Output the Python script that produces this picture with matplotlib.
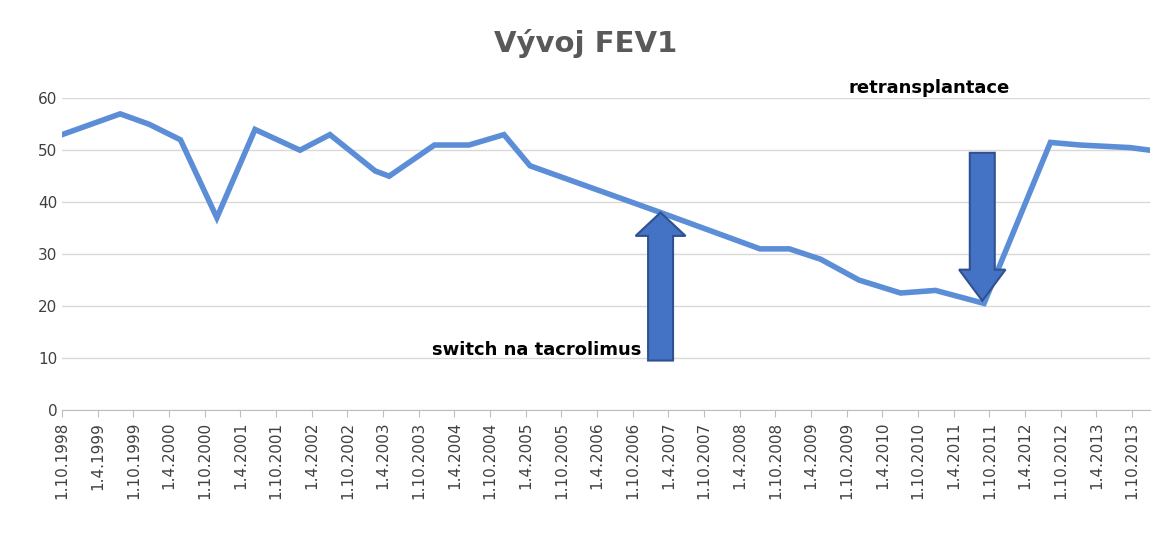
import matplotlib
matplotlib.use("Agg")
import matplotlib.pyplot as plt
from matplotlib.patches import FancyArrow

tick_labels = []
for y in range(1998, 2014):
    if y > 1998:
        tick_labels.append(f"1.4.{y}")
    tick_labels.append(f"1.10.{y}")
# positions in half-year units from 1.10.1998
pos = [0, 1.63, 2.44, 3.32, 4.34, 5.41, 6.67, 7.51, 8.78, 9.17, 10.44, 11.41, 12.39, 13.12,
       16.78, 19.57, 20.39, 21.27, 22.34, 23.51, 24.49, 25.85, 27.71, 28.54, 29.95, 30.5]
fev1 = [53, 57, 55, 52, 37, 54, 50, 53, 46, 45, 51, 51, 53, 47,
        38, 31, 31, 29, 25, 22.5, 23, 20.5, 51.5, 51, 50.5, 50]

fig = plt.figure(figsize=(11.71, 5.4), dpi=100)
ax = fig.add_axes([0.053, 0.241, 0.929, 0.577])
ax.plot(pos, fev1, color="#5B8ED6", lw=4, solid_joinstyle="miter", zorder=3)
ax.set_xlim(0, 30.5)
ax.set_ylim(0, 60)
ax.set_yticks(range(0, 61, 10))
ax.set_xticks(range(len(tick_labels)))
ax.set_xticklabels(tick_labels, rotation=90, fontsize=11, color="#404040")
ax.tick_params(axis="y", labelsize=11, colors="#404040", length=0)
ax.tick_params(axis="x", length=5, color="#BFBFBF")
ax.grid(axis="y", color="#D9D9D9", lw=1)
for s in ["top", "right", "left"]:
    ax.spines[s].set_visible(False)
ax.spines["bottom"].set_color("#BFBFBF")

ax.add_patch(FancyArrow(16.78, 9.5, 0, 28.5, width=0.7, head_width=1.4, head_length=4.5,
                        length_includes_head=True, fc="#4472C4", ec="#2F528F", lw=1.5, zorder=4))
ax.add_patch(FancyArrow(25.8, 49.5, 0, -28.5, width=0.7, head_width=1.3, head_length=6,
                        length_includes_head=True, fc="#4472C4", ec="#2F528F", lw=1.5, zorder=4))
ax.text(16.25, 11.5, "switch na tacrolimus", ha="right", va="center", fontsize=13,
        fontweight="bold", color="black")
ax.text(24.3, 62, "retransplantace", ha="center", va="center", fontsize=13,
        fontweight="bold", color="black", clip_on=False)
fig.text(0.5, 0.92, "Vývoj FEV1", ha="center", va="center", fontsize=21,
         fontweight="bold", color="#595959")
fig.savefig("out.png", dpi=100)
